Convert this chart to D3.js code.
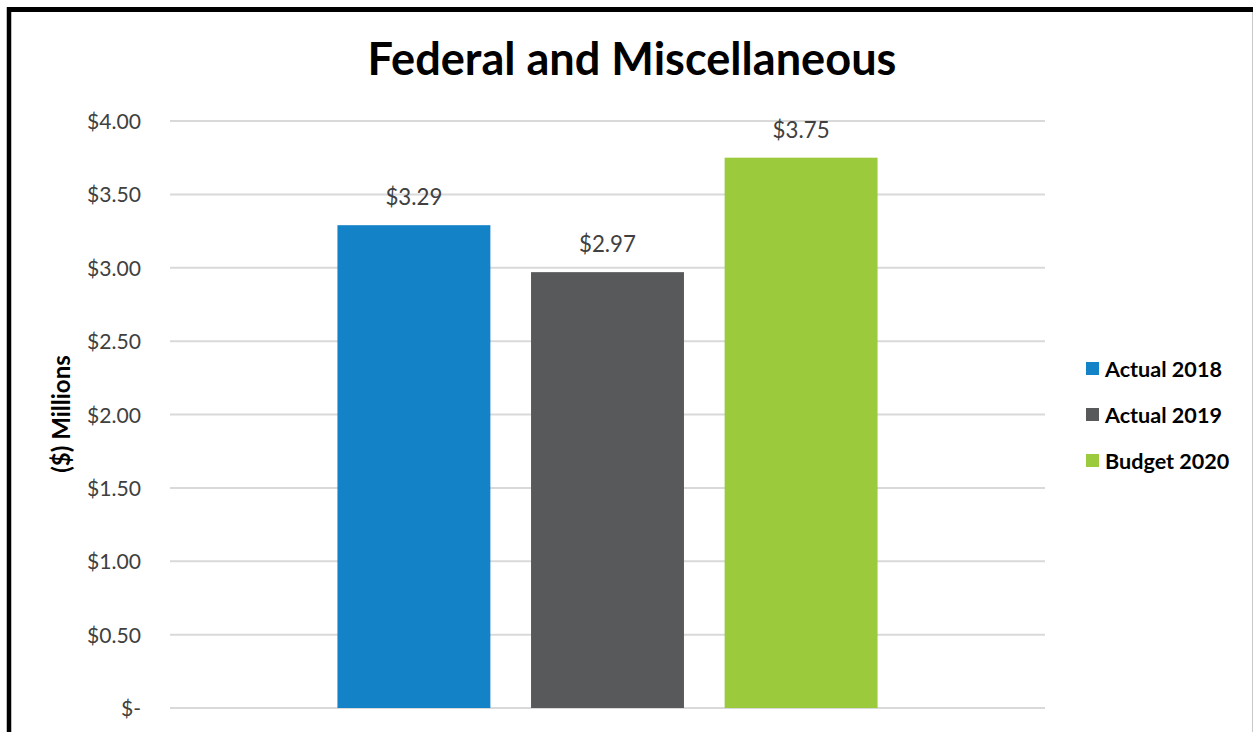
<!DOCTYPE html>
<html><head><meta charset="utf-8">
<script src="https://cdn.jsdelivr.net/npm/d3@7"></script>
<style>body{margin:0;background:#fff;} svg{display:block;font-family:Lato,"Open Sans",sans-serif;}</style>
</head><body>
<svg id="c" width="1255" height="732"></svg>
<script>
const categories = ["Federal and Miscellaneous"];
const seriesNames = ["Actual 2018", "Actual 2019", "Budget 2020"];
const seriesValues = [3.29, 2.97, 3.75];
const seriesColors = ["#1482C7", "#58595B", "#9BCB3D"];
const yTicks = [0, 0.5, 1, 1.5, 2, 2.5, 3, 3.5, 4];
const yTickLabels = ["$-", "$0.50", "$1.00", "$1.50", "$2.00", "$2.50", "$3.00", "$3.50", "$4.00"];
const chartTitle = "Federal and Miscellaneous";
const yTitle = "($) Millions";

const svg = d3.select("#c");
function fit(sel, base, target) {
  sel.attr("font-size", base);
  const w = sel.node().getComputedTextLength();
  return base * target / w;
}
// frame
svg.append("line").attr("x1", 9).attr("x2", 9).attr("y1", 7).attr("y2", 732).attr("stroke", "#000").attr("stroke-width", 4.5);
svg.append("line").attr("x1", 7).attr("x2", 1253).attr("y1", 9.5).attr("y2", 9.5).attr("stroke", "#000").attr("stroke-width", 5);
svg.append("line").attr("x1", 1252.5).attr("x2", 1252.5).attr("y1", 12).attr("y2", 732).attr("stroke", "#c8c8c8").attr("stroke-width", 1);

const y = d3.scaleLinear().domain([0, 4]).range([708, 121]);
const x0 = d3.scaleBand().domain(categories).range([170, 1045]).paddingInner(0).paddingOuter(0.31);
const x1 = d3.scaleBand().domain(seriesNames).range([0, x0.bandwidth()]).paddingInner(0.21).paddingOuter(0);

// gridlines
svg.append("g").selectAll("line").data(yTicks).join("line")
  .attr("x1", 170).attr("x2", 1045)
  .attr("y1", d => y(d)).attr("y2", d => y(d))
  .attr("stroke", "#d9d9d9").attr("stroke-width", 2);

// y axis labels
const yAxis = d3.axisLeft(y).tickValues(yTicks).tickSize(0).tickPadding(0)
  .tickFormat((d, i) => yTickLabels[i]);
const ga = svg.append("g").attr("transform", "translate(141,0)").call(yAxis);
ga.select(".domain").remove();
const tickTexts = ga.selectAll("text").attr("font-family", "Lato, sans-serif").attr("fill", "#404040").attr("dy", "0.36em");
const tickFs = fit(ga.selectAll("text").filter((d, i) => i === 8), 19, 54);
tickTexts.attr("font-size", tickFs);

// bars
const cat = categories[0];
svg.append("g").selectAll("rect").data(seriesValues).join("rect")
  .attr("x", (d, i) => x0(cat) + x1(seriesNames[i]))
  .attr("width", x1.bandwidth())
  .attr("y", d => y(d))
  .attr("height", d => y(0) - y(d))
  .attr("fill", (d, i) => seriesColors[i]);

// data labels
const dl = svg.append("g").selectAll("text").data(seriesValues).join("text")
  .attr("x", (d, i) => x0(cat) + x1(seriesNames[i]) + x1.bandwidth() / 2)
  .attr("y", d => y(d) - 20)
  .attr("text-anchor", "middle")
  .attr("fill", "#404040")
  .text(d => "$" + d3.format(".2f")(d));
dl.attr("font-size", fit(dl.filter((d, i) => i === 0), 19, 57));

// title
const t = svg.append("text").attr("x", 632).attr("y", 75).attr("text-anchor", "middle")
  .attr("font-weight", "bold").attr("fill", "#000").text(chartTitle);
t.attr("font-size", fit(t, 36, 529));

// y title
const yt = svg.append("text").attr("transform", "translate(70,414) rotate(-90)")
  .attr("text-anchor", "middle").attr("font-weight", "bold").attr("fill", "#000")
  .text(yTitle);
yt.attr("font-size", Math.min(24, fit(yt, 19, 124)));

// legend
const lg = svg.append("g").selectAll("g").data(seriesNames).join("g")
  .attr("transform", (d, i) => `translate(1086,${369 + i * 46})`);
lg.append("rect").attr("x", 0).attr("y", -7).attr("width", 13).attr("height", 13)
  .attr("fill", (d, i) => seriesColors[i]);
const lt = lg.append("text").attr("x", 19).attr("y", 0).attr("dy", "0.36em")
  .attr("font-weight", "bold").attr("fill", "#000").text(d => d);
lt.attr("font-size", fit(lt.filter((d, i) => i === 0), 19, 117));
</script>
</body></html>
